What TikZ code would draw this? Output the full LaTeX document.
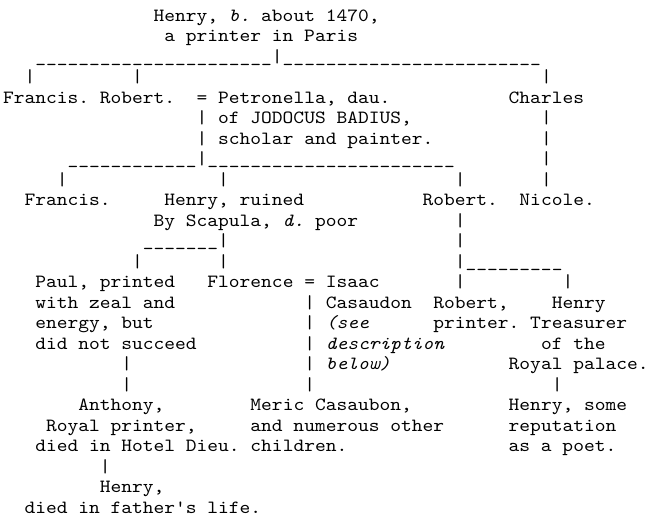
\documentclass[tikz,border=0pt]{standalone}
\usepackage{fontspec}
\setmonofont[Extension=.otf, UprightFont=*-regular, ItalicFont=*-italic, FakeStretch=1.1]{lmmono10}
\newcommand\cw{10.76}
\newcommand\lp{20.5}
\newcommand\US[1]{\foreach \k in {1,...,#1}{\_}}
\tikzset{txt/.style={anchor=base west, inner sep=0pt, outer sep=0pt, text=black,
  font=\ttfamily\fontsize{18.63}{20.5}\selectfont}}
\newcommand\T[4]{\node[txt] (#1) at ({3+#2*\cw},{-(21+(#3-1)*\lp)}) {#4};}
\begin{document}
\begin{tikzpicture}[x=1pt,y=1pt]
\useasboundingbox (0,0) rectangle (651,-531);
\fill[white] (0,0) rectangle (651,-531);
% line 1-2
\T{henry}{14}{1}{Henry, \textit{b.} about 1470,}
\T{henryb}{15}{2}{a printer in Paris}
% line 3
\T{l3}{3}{3}{\US{22}|\US{24}}
% line 4
\T{l4a}{2}{4}{|}
\T{l4b}{12}{4}{|}
\T{l4c}{50}{4}{|}
% line 5
\T{francis}{0}{5}{Francis.}
\T{robert}{9}{5}{Robert.}
\T{eqa}{18}{5}{=}
\T{petronella}{20}{5}{Petronella, dau.}
\T{charles}{47}{5}{Charles}
% line 6
\T{l6a}{18}{6}{|}
\T{petb}{20}{6}{of JODOCUS BADIUS,}
\T{l6c}{50}{6}{|}
% line 7
\T{l7a}{18}{7}{|}
\T{petc}{20}{7}{scholar and painter.}
\T{l7c}{50}{7}{|}
% line 8
\T{l8}{6}{8}{\US{12}|\US{23}}
\T{l8c}{50}{8}{|}
% line 9
\T{l9a}{5}{9}{|}
\T{l9b}{20}{9}{|}
\T{l9c}{42}{9}{|}
\T{l9d}{50}{9}{|}
% line 10
\T{francisb}{2}{10}{Francis.}
\T{henryc}{15}{10}{Henry, ruined}
\T{robertb}{39}{10}{Robert.}
\T{nicole}{48}{10}{Nicole.}
% line 11
\T{henryd}{14}{11}{By Scapula, \textit{d.} poor}
\T{l11c}{42}{11}{|}
% line 12
\T{l12}{13}{12}{\US{7}|}
\T{l12c}{42}{12}{|}
% line 13
\T{l13a}{12}{13}{|}
\T{l13b}{20}{13}{|}
\T{l13c}{42}{13}{|\US{9}}
% line 14
\T{paul}{3}{14}{Paul, printed}
\T{florence}{19}{14}{Florence = Isaac}
\T{l14c}{42}{14}{|}
\T{l14d}{52}{14}{|}
% line 15
\T{paulb}{3}{15}{with zeal and}
\T{l15a}{28}{15}{|}
\T{isaac}{30}{15}{Casaudon}
\T{robertc}{40}{15}{Robert,}
\T{henrye}{51}{15}{Henry}
% line 16
\T{paulc}{3}{16}{energy, but}
\T{l16a}{28}{16}{|}
\T{isaacb}{30}{16}{\textit{(see}}
\T{robertd}{40}{16}{printer.}
\T{henryf}{49}{16}{Treasurer}
% line 17
\T{pauld}{3}{17}{did not succeed}
\T{l17a}{28}{17}{|}
\T{isaacc}{30}{17}{\textit{description}}
\T{henryg}{50}{17}{of the}
% line 18
\T{l18a}{11}{18}{|}
\T{l18b}{28}{18}{|}
\T{isaacd}{30}{18}{\textit{below)}}
\T{henryh}{47}{18}{Royal palace.}
% line 19
\T{l19a}{11}{19}{|}
\T{l19b}{28}{19}{|}
\T{l19c}{51}{19}{|}
% line 20
\T{anthony}{7}{20}{Anthony,}
\T{meric}{23}{20}{Meric Casaubon,}
\T{henryi}{47}{20}{Henry, some}
% line 21
\T{anthonyb}{4}{21}{Royal printer,}
\T{mericb}{23}{21}{and numerous other}
\T{henryj}{47}{21}{reputation}
% line 22
\T{anthonyc}{3}{22}{died in Hotel Dieu.}
\T{mericc}{23}{22}{children.}
\T{henryk}{47}{22}{as a poet.}
% line 23-25
\T{l23}{9}{23}{|}
\T{henryl}{9}{24}{Henry,}
\T{henrym}{2}{25}{died in father's life.}
\end{tikzpicture}
\end{document}
